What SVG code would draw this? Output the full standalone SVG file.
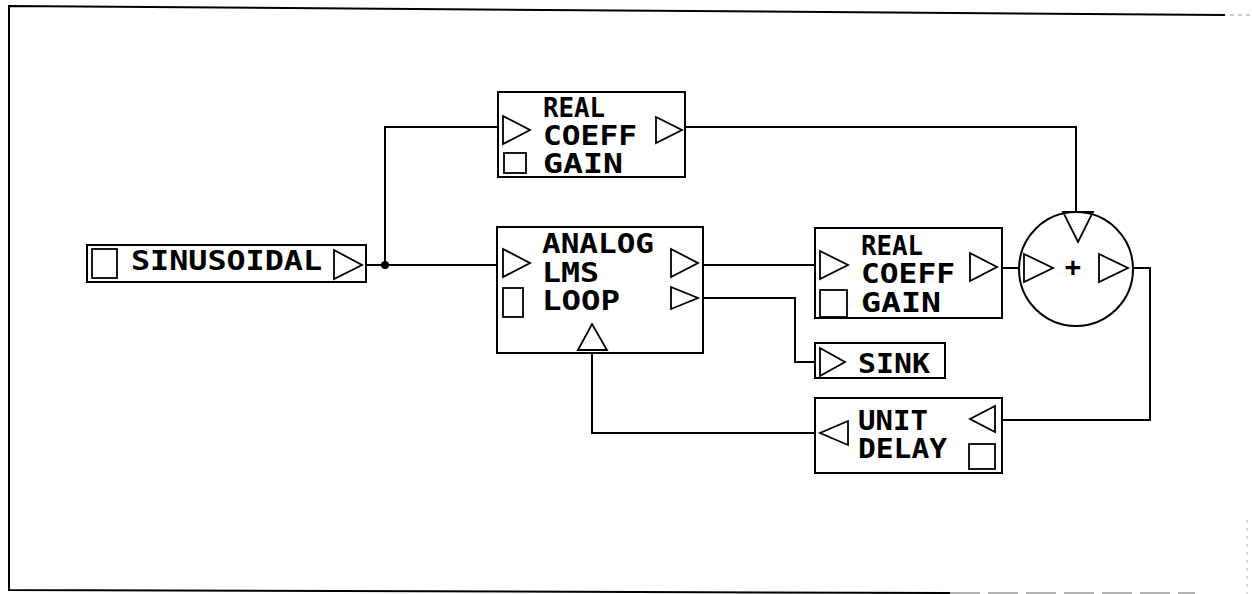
<svg xmlns="http://www.w3.org/2000/svg" width="1252" height="594" viewBox="0 0 1252 594">
<style>
.box{fill:#fff;stroke:#000;stroke-width:2}
.port{fill:none;stroke:#000;stroke-width:1.8;stroke-linejoin:miter}
.w{fill:none;stroke:#000;stroke-width:2}
text{font-family:"DejaVu Sans Mono","Liberation Mono",monospace;font-weight:bold;font-size:27px;fill:#000}
</style>
<rect width="1252" height="594" fill="#fff"/>
<g id="frame">
<polyline class="w" points="1225,15 9,6 9,590 950,593"/>
<line x1="950" y1="593" x2="1195" y2="593" stroke="#999" stroke-width="1.5" stroke-dasharray="30,8"/>
<line x1="1230" y1="15" x2="1250" y2="15" stroke="#999" stroke-width="1" stroke-dasharray="4,4"/>
<line x1="1247" y1="520" x2="1247" y2="594" stroke="#bbb" stroke-width="1" stroke-dasharray="3,5"/>
</g>
<g id="connectors">
<polyline class="w" points="366,265 498,265"/>
<polyline class="w" points="385,265 385,127 498,127"/>
<circle cx="385" cy="265" r="4" fill="#000"/>
<polyline class="w" points="685,127 1076,127 1076,211"/>
<polyline class="w" points="703,265 815,265"/>
<polyline class="w" points="703,298 795,298 795,362 815,362"/>
<polyline class="w" points="1002,268 1020,268"/>
<polyline class="w" points="1133,268 1150,268 1150,420 1002,420"/>
<polyline class="w" points="815,433 592,433 592,353"/>
</g>
<g id="sinusoidal">
<rect class="box" x="87" y="245" width="279" height="37"/>
<rect class="port" x="92" y="249" width="25" height="29" stroke-width="3"/>
<text x="131" y="270" textLength="191" lengthAdjust="spacingAndGlyphs">SINUSOIDAL</text>
<polygon class="port" points="334,250 362,265 334,279"/>
</g>
<g id="real-coeff-gain-1">
<rect class="box" x="498" y="92" width="187" height="85"/>
<polygon class="port" points="503,116 530,130 503,144"/>
<text x="543" y="117" textLength="62" lengthAdjust="spacingAndGlyphs">REAL</text>
<text x="543" y="145" textLength="94" lengthAdjust="spacingAndGlyphs">COEFF</text>
<text x="543" y="173" textLength="80" lengthAdjust="spacingAndGlyphs">GAIN</text>
<rect class="port" x="504" y="153" width="22" height="20"/>
<polygon class="port" points="656,117 682,130 656,143"/>
</g>
<g id="analog-lms-loop">
<rect class="box" x="497" y="227" width="206" height="126"/>
<polygon class="port" points="503,249 530,263 503,277"/>
<text x="542" y="253" textLength="112" lengthAdjust="spacingAndGlyphs">ANALOG</text>
<text x="542" y="282" textLength="57" lengthAdjust="spacingAndGlyphs">LMS</text>
<text x="542" y="310" textLength="78" lengthAdjust="spacingAndGlyphs">LOOP</text>
<rect class="port" x="503" y="288" width="20" height="29"/>
<polygon class="port" points="671,249 698,263 671,277"/>
<polygon class="port" points="671,287 698,298 671,309"/>
<polygon class="port" points="578,350 592,324 607,350"/>
</g>
<g id="real-coeff-gain-2">
<rect class="box" x="815" y="228" width="187" height="90"/>
<polygon class="port" points="820,251 848,265 820,279"/>
<text x="861" y="255" textLength="62" lengthAdjust="spacingAndGlyphs">REAL</text>
<text x="861" y="283" textLength="94" lengthAdjust="spacingAndGlyphs">COEFF</text>
<text x="861" y="312" textLength="80" lengthAdjust="spacingAndGlyphs">GAIN</text>
<rect class="port" x="820" y="290" width="27" height="27"/>
<polygon class="port" points="970,253 997,267 970,281"/>
</g>
<g id="summer">
<circle class="box" cx="1076" cy="269" r="57"/>
<polygon class="port" points="1063,212 1093,212 1078,242"/>
<polygon class="port" points="1024,254 1053,268 1024,282"/>
<polygon class="port" points="1099,254 1128,268 1099,282"/>
<text x="1073" y="276" text-anchor="middle" font-size="26">+</text>
</g>
<g id="sink">
<rect class="box" x="815" y="343" width="130" height="35"/>
<polygon class="port" points="820,348 845,362 820,376"/>
<text x="858" y="373" textLength="72" lengthAdjust="spacingAndGlyphs">SINK</text>
</g>
<g id="unit-delay">
<rect class="box" x="815" y="398" width="187" height="75"/>
<polygon class="port" points="848,421 820,433 848,445"/>
<text x="858" y="430" textLength="70" lengthAdjust="spacingAndGlyphs">UNIT</text>
<text x="858" y="458" textLength="89" lengthAdjust="spacingAndGlyphs">DELAY</text>
<polygon class="port" points="995,406 970,419 995,432"/>
<rect class="port" x="969" y="444" width="26" height="25"/>
</g>
</svg>
